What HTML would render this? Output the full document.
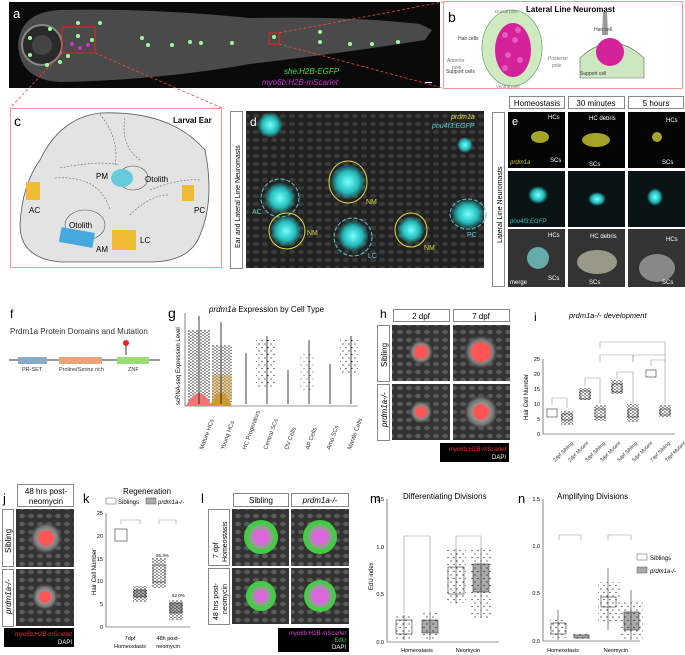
<!DOCTYPE html>
<html><head><meta charset="utf-8"><style>
body{margin:0;background:#fff;}
svg{display:block;font-family:"Liberation Sans",Arial,sans-serif;}
</style></head><body>
<svg width="685" height="655" viewBox="0 0 685 655" xmlns="http://www.w3.org/2000/svg">
<defs>
<radialGradient id="cy"><stop offset="0" stop-color="#7ff"/><stop offset="0.6" stop-color="#2bb"/><stop offset="1" stop-color="#2bb" stop-opacity="0"/></radialGradient>
<radialGradient id="gr"><stop offset="0" stop-color="#ccc"/><stop offset="0.7" stop-color="#777"/><stop offset="1" stop-color="#333" stop-opacity="0"/></radialGradient>
<pattern id="dots" width="4" height="3" patternUnits="userSpaceOnUse"><circle cx="1" cy="1" r="0.7" fill="#111"/><circle cx="3" cy="2.4" r="0.6" fill="#111"/></pattern>
<pattern id="sdots" width="6" height="7" patternUnits="userSpaceOnUse"><circle cx="1" cy="1" r="0.6" fill="#111"/><circle cx="4" cy="4.5" r="0.6" fill="#111"/></pattern>
<pattern id="nuc" width="9" height="8" patternUnits="userSpaceOnUse"><rect width="9" height="8" fill="#333"/><ellipse cx="4" cy="4" rx="3" ry="2.2" fill="#5a5a5a"/></pattern>
</defs>
<!-- panel a -->
<rect x="9" y="2" width="431" height="86" fill="#0a0a0a"/>
<path d="M18 45 Q20 12 60 10 Q150 8 250 18 Q350 16 420 24 L432 30 L425 40 Q350 52 250 64 Q160 80 60 82 Q20 80 18 45Z" fill="#4a4a4a"/>
<circle cx="42" cy="45" r="20" fill="#2a2a2a" stroke="#888" stroke-width="2"/>
<circle cx="42" cy="45" r="10" fill="#444"/>
<g fill="#9f9">
<circle cx="78" cy="23" r="2"/><circle cx="100" cy="23" r="2"/><circle cx="50" cy="29" r="2"/><circle cx="78" cy="36" r="2"/><circle cx="92" cy="40" r="2"/><circle cx="142" cy="38" r="2"/><circle cx="172" cy="45" r="2"/><circle cx="190" cy="42" r="2"/><circle cx="201" cy="43" r="2"/><circle cx="232" cy="43" r="2"/><circle cx="274" cy="37" r="2"/><circle cx="320" cy="42" r="2"/><circle cx="350" cy="44" r="2"/><circle cx="372" cy="44" r="2"/><circle cx="398" cy="42" r="2"/><circle cx="320" cy="32" r="2"/><circle cx="30" cy="55" r="2"/><circle cx="47" cy="65" r="2"/><circle cx="60" cy="62" r="2"/><circle cx="68" cy="56" r="2"/><circle cx="30" cy="38" r="2"/><circle cx="148" cy="45" r="2"/>
</g>
<g fill="#c3c"><circle cx="72" cy="44" r="2"/><circle cx="80" cy="48" r="2"/><circle cx="88" cy="45" r="2"/></g>
<rect x="62" y="27" width="33" height="26" fill="none" stroke="#e22" stroke-width="1"/>
<rect x="269" y="33" width="10" height="11" fill="none" stroke="#e22" stroke-width="1"/>
<text x="13" y="18" fill="#fff" font-size="13">a</text>
<text x="284" y="74" fill="#4d4" font-size="8" font-style="italic">she:H2B-EGFP</text>
<text x="262" y="85" fill="#c3c" font-size="8" font-style="italic">myo6b:H2B-mScarlet</text>
<rect x="425" y="82" width="7" height="1" fill="#fff"/>
<g stroke="#e44" stroke-width="0.8" stroke-dasharray="3,2" fill="none">
<line x1="279" y1="33" x2="443" y2="2"/><line x1="279" y1="44" x2="443" y2="88"/>
<line x1="62" y1="53" x2="10" y2="108"/><line x1="95" y1="53" x2="222" y2="108"/>
</g>
<!-- panel b -->
<rect x="443.5" y="1.5" width="239" height="87" fill="#fff" stroke="#e99" stroke-width="1"/>
<text x="448" y="22" font-size="14">b</text>
<text x="526" y="12" font-size="8" font-weight="bold">Lateral Line Neuromast</text>
<ellipse cx="512" cy="48" rx="30" ry="38" fill="#cfeac0" stroke="#6a6" stroke-width="0.7"/>
<ellipse cx="513" cy="50" rx="18" ry="27" fill="#d4239a"/>
<g fill="#e55bc0"><circle cx="505" cy="35" r="3"/><circle cx="515" cy="40" r="3"/><circle cx="508" cy="55" r="3"/><circle cx="520" cy="60" r="3"/><circle cx="505" cy="68" r="3"/><circle cx="518" cy="30" r="3"/></g>
<text x="495" y="13" font-size="4.5" fill="#777">Dorsal pole</text>
<text x="496" y="88" font-size="4.5" fill="#777">Ventral pole</text>
<text x="458" y="40" font-size="5" fill="#333">Hair cells</text>
<text x="447" y="62" font-size="5" fill="#777">Anterior</text><text x="452" y="69" font-size="5" fill="#777">pole</text>
<text x="548" y="60" font-size="5" fill="#777">Posterior</text><text x="552" y="67" font-size="5" fill="#777">pole</text>
<text x="446" y="73" font-size="5" fill="#333">Support cells</text>
<path d="M580 58 Q612 28 644 58 L644 78 L580 78Z" fill="#cde8c0" stroke="#666" stroke-width="0.6"/>
<path d="M603 12 L607 12 L608 35 L602 35Z" fill="#999"/>
<ellipse cx="610" cy="52" rx="14" ry="14" fill="#d4239a"/>
<text x="594" y="31" font-size="5" fill="#333">Hair cell</text>
<text x="580" y="75" font-size="5" fill="#333">Support cell</text>
<!-- panel c -->
<rect x="10.5" y="108.5" width="211" height="159" fill="#fff" stroke="#e99" stroke-width="1"/>
<text x="14" y="126" font-size="14">c</text>
<text x="173" y="123" font-size="8" font-weight="bold">Larval Ear</text>
<path d="M100 113 Q170 110 205 150 Q215 200 200 235 Q190 262 150 262 L60 262 Q20 258 20 225 Q22 185 40 160 Q60 118 100 113Z" fill="#e3e3e3" stroke="#555" stroke-width="0.8"/>
<g fill="none" stroke="#666" stroke-width="0.6" stroke-dasharray="2,1.5"><path d="M100 114 Q120 140 115 165"/><path d="M125 118 Q120 145 140 160"/><path d="M60 168 Q100 160 118 165"/><path d="M55 178 Q100 175 110 210"/><path d="M150 190 Q180 178 200 180"/><path d="M130 215 Q150 195 168 195"/></g>
<ellipse cx="133" cy="178" rx="15" ry="12" fill="none" stroke="#555" stroke-width="0.6"/>
<ellipse cx="122" cy="178" rx="11" ry="9" fill="#6cd"/>
<ellipse cx="85" cy="225" rx="20" ry="15" fill="none" stroke="#555" stroke-width="0.6"/>
<rect x="60" y="230" width="34" height="15" fill="#4ad" transform="rotate(10 77 237)"/>
<rect x="26" y="182" width="14" height="18" fill="#eb3"/>
<rect x="182" y="185" width="12" height="16" fill="#eb3"/>
<rect x="112" y="230" width="24" height="20" fill="#eb3"/>
<text x="96" y="179" font-size="8">PM</text><text x="145" y="182" font-size="8">Otolith</text>
<text x="29" y="213" font-size="8">AC</text><text x="194" y="213" font-size="8">PC</text>
<text x="69" y="228" font-size="8">Otolith</text><text x="96" y="252" font-size="8">AM</text><text x="140" y="243" font-size="8">LC</text>
<!-- panel d -->
<rect x="230.5" y="111.5" width="12" height="157" fill="#fff" stroke="#888"/>
<text transform="translate(240 248) rotate(-90)" font-size="7">Ear and Lateral Line Neuromasts</text>
<rect x="246" y="111" width="238" height="157" fill="url(#nuc)"/>
<rect x="246" y="111" width="238" height="157" fill="#000" opacity="0.35"/>
<circle cx="270" cy="125" r="13" fill="url(#cy)"/>
<circle cx="465" cy="145" r="8" fill="url(#cy)"/>
<circle cx="348" cy="182" r="18" fill="url(#cy)"/><ellipse cx="348" cy="182" rx="19" ry="21" fill="none" stroke="#dd4" stroke-width="1"/>
<circle cx="280" cy="198" r="16" fill="url(#cy)"/><ellipse cx="280" cy="198" rx="19" ry="19" fill="none" stroke="#5cc" stroke-dasharray="4,2"/>
<circle cx="286" cy="231" r="16" fill="url(#cy)"/><ellipse cx="287" cy="231" rx="18" ry="18" fill="none" stroke="#dd4" stroke-width="1"/>
<circle cx="353" cy="236" r="16" fill="url(#cy)"/><ellipse cx="353" cy="237" rx="19" ry="19" fill="none" stroke="#5cc" stroke-dasharray="4,2"/>
<circle cx="411" cy="230" r="14" fill="url(#cy)"/><ellipse cx="411" cy="230" rx="16" ry="17" fill="none" stroke="#dd4" stroke-width="1"/>
<ellipse cx="468" cy="214" rx="17" ry="15" fill="url(#cy)"/><ellipse cx="468" cy="214" rx="18" ry="15" fill="none" stroke="#5cc" stroke-dasharray="4,2"/>
<text x="250" y="126" font-size="12" fill="#fff">d</text>
<text x="451" y="119" font-size="7" fill="#dd4" font-style="italic">prdm1a</text>
<text x="432" y="128" font-size="7" fill="#5cc" font-style="italic">pou4f3:EGFP</text>
<g font-size="7" fill="#6cc"><text x="252" y="214">AC</text><text x="366" y="204" fill="#dd4">NM</text><text x="307" y="235" fill="#dd4">NM</text><text x="368" y="258">LC</text><text x="424" y="250" fill="#dd4">NM</text><text x="467" y="237">PC</text></g>
<!-- panel e -->
<rect x="492.5" y="112.5" width="12" height="174" fill="#fff" stroke="#888"/>
<text transform="translate(502 243) rotate(-90)" font-size="7">Lateral Line Neuromasts</text>
<g fill="#fff" stroke="#888"><rect x="509.5" y="96.5" width="55" height="12"/><rect x="568.5" y="96.5" width="56" height="12"/><rect x="628.5" y="96.5" width="55" height="12"/></g>
<g font-size="8" text-anchor="middle"><text x="537" y="106">Homeostasis</text><text x="596" y="106">30 minutes</text><text x="656" y="106">5 hours</text></g>
<g fill="#050505"><rect x="508" y="112" width="57" height="56"/><rect x="568" y="112" width="57" height="56"/><rect x="628" y="112" width="57" height="56"/>
<rect x="508" y="171" width="57" height="56" fill="#0a1414"/><rect x="568" y="171" width="57" height="56" fill="#0a1414"/><rect x="628" y="171" width="57" height="56" fill="#0a1414"/>
<rect x="508" y="229" width="57" height="58" fill="#333"/><rect x="568" y="229" width="57" height="58" fill="#333"/><rect x="628" y="229" width="57" height="58" fill="#333"/></g>
<g fill="#cc3" opacity="0.8"><ellipse cx="540" cy="137" rx="9" ry="6"/><ellipse cx="596" cy="140" rx="14" ry="7"/><ellipse cx="657" cy="137" rx="5" ry="5"/></g>
<g><ellipse cx="538" cy="195" rx="10" ry="9" fill="url(#cy)"/><ellipse cx="597" cy="199" rx="9" ry="7" fill="url(#cy)"/><ellipse cx="655" cy="197" rx="8" ry="9" fill="url(#cy)"/>
<ellipse cx="538" cy="258" rx="11" ry="11" fill="#6aa"/><ellipse cx="597" cy="262" rx="20" ry="12" fill="#998"/><ellipse cx="657" cy="268" rx="18" ry="14" fill="#888"/></g>
<text x="512" y="125" font-size="11" fill="#fff">e</text>
<g font-size="6" fill="#fff"><text x="548" y="119">HCs</text><text x="589" y="120">HC debris</text><text x="666" y="122">HCs</text><text x="550" y="162">SCs</text><text x="589" y="166">SCs</text><text x="662" y="164">SCs</text>
<text x="548" y="237">HCs</text><text x="590" y="238">HC debris</text><text x="666" y="241">HCs</text><text x="548" y="280">SCs</text><text x="589" y="284">SCs</text><text x="662" y="284">SCs</text>
<text x="510" y="284">merge</text></g>
<text x="510" y="164" font-size="6" fill="#cc3" font-style="italic">prdm1a</text>
<text x="510" y="223" font-size="6" fill="#3bb" font-style="italic">pou4f3:EGFP</text>
<!-- panel f -->
<text x="10" y="318" font-size="12">f</text>
<text x="10" y="334" font-size="8" fill="#333">Prdm1a Protein Domains and Mutation</text>
<line x1="9" y1="360" x2="160" y2="360" stroke="#333"/>
<rect x="18" y="357" width="29" height="7" fill="#8ac"/><rect x="59" y="357" width="43" height="7" fill="#e9a377"/><rect x="117" y="357" width="32" height="7" fill="#9d7"/>
<line x1="126" y1="345" x2="126" y2="355" stroke="#333"/><circle cx="126" cy="343" r="3" fill="#e22"/>
<g font-size="5.5" fill="#333"><text x="22" y="371">PR-SET</text><text x="59" y="371">Proline/Serine rich</text><text x="128" y="371">ZNF</text></g>
<!-- panel g -->
<text x="168" y="318" font-size="14">g</text>
<text x="209" y="312" font-size="8"><tspan font-style="italic">prdm1a</tspan> Expression by Cell Type</text>
<line x1="185" y1="313" x2="185" y2="406" stroke="#333" stroke-width="0.6"/>
<text transform="translate(180 405) rotate(-90)" font-size="6">scRNA-seq Expression Level</text>
<line x1="185" y1="406" x2="358" y2="406" stroke="#333" stroke-width="0.6"/>
<rect x="188" y="330" width="22" height="72" fill="url(#dots)"/>
<rect x="212" y="345" width="20" height="57" fill="url(#dots)"/>
<rect x="212" y="375" width="20" height="25" fill="#c93" opacity="0.5"/>
<path d="M186 406 Q199 380 212 406Z" fill="#e77"/>
<path d="M210 406 Q221 380 232 406Z" fill="#c93"/>
<g stroke="#111" stroke-width="0.8"><line x1="199" y1="316" x2="199" y2="404"/><line x1="221" y1="322" x2="221" y2="404"/><line x1="246" y1="353" x2="246" y2="404"/><line x1="267" y1="336" x2="267" y2="404"/><line x1="288" y1="370" x2="288" y2="404"/><line x1="309" y1="340" x2="309" y2="404"/><line x1="330" y1="364" x2="330" y2="404"/><line x1="351" y1="336" x2="351" y2="404"/></g>
<rect x="256" y="340" width="20" height="48" fill="url(#sdots)"/>
<rect x="300" y="352" width="14" height="40" fill="url(#sdots)" opacity="0.6"/>
<rect x="340" y="338" width="18" height="36" fill="url(#sdots)"/>
<g font-size="6" fill="#333"><text transform="translate(203 450) rotate(-70)">Mature HCs</text><text transform="translate(224 450) rotate(-70)">Young HCs</text><text transform="translate(246 450) rotate(-70)">HC Progenitors</text><text transform="translate(267 450) rotate(-70)">Central SCs</text><text transform="translate(288 450) rotate(-70)">DV Cells</text><text transform="translate(309 450) rotate(-70)">AP Cells</text><text transform="translate(330 450) rotate(-70)">Amp SCs</text><text transform="translate(351 450) rotate(-70)">Mantle Cells</text></g>
<!-- panel h -->
<text x="380" y="318" font-size="12">h</text>
<g fill="#fff" stroke="#888"><rect x="393.5" y="309.5" width="56" height="12"/><rect x="453.5" y="309.5" width="56" height="12"/><rect x="377.5" y="325.5" width="12" height="56"/><rect x="377.5" y="384.5" width="12" height="56"/></g>
<g font-size="8" text-anchor="middle"><text x="421" y="319">2 dpf</text><text x="481" y="319">7 dpf</text></g>
<text transform="translate(387 367) rotate(-90)" font-size="8">Sibling</text>
<text transform="translate(387 427) rotate(-90)" font-size="8" font-style="italic">prdm1a-/-</text>
<g fill="url(#nuc)"><rect x="392" y="325" width="58" height="56"/><rect x="453" y="325" width="57" height="56"/><rect x="392" y="384" width="58" height="56"/><rect x="453" y="384" width="57" height="56"/></g>
<circle cx="481" cy="352" r="18" fill="url(#gr)"/><circle cx="481" cy="412" r="18" fill="url(#gr)"/><circle cx="421" cy="412" r="12" fill="url(#gr)"/><circle cx="421" cy="352" r="13" fill="url(#gr)"/>
<g fill="#f55"><circle cx="421" cy="352" r="7"/><circle cx="481" cy="352" r="10"/><circle cx="421" cy="412" r="6"/><circle cx="481" cy="412" r="8"/></g>
<rect x="440" y="443" width="69" height="19" fill="#000"/>
<text x="506" y="451" font-size="6" fill="#e33" text-anchor="end" font-style="italic">myo6b:H2B-mScarlet</text>
<text x="506" y="459" font-size="6" fill="#fff" text-anchor="end">DAPI</text>
<!-- panel i -->
<text x="534" y="321" font-size="12">i</text>
<text x="569" y="318" font-size="7.5" font-style="italic">prdm1a-/- development</text>
<line x1="543" y1="359" x2="543" y2="434" stroke="#333" stroke-width="0.6"/><line x1="543" y1="434" x2="675" y2="434" stroke="#333" stroke-width="0.6"/>
<g font-size="5.5" text-anchor="end"><text x="540" y="361">25</text><text x="540" y="376">20</text><text x="540" y="391">15</text><text x="540" y="406">10</text><text x="540" y="421">5</text><text x="540" y="436">0</text></g>
<text transform="translate(528 420) rotate(-90)" font-size="6">Hair Cell Number</text>
<g fill="#fff" stroke="#333" stroke-width="0.6"><rect x="547" y="409" width="10" height="8"/><rect x="562" y="414" width="10" height="6"/><rect x="580" y="391" width="10" height="8"/><rect x="595" y="409" width="10" height="8"/><rect x="612" y="384" width="10" height="8"/><rect x="628" y="409" width="10" height="8"/><rect x="646" y="370" width="10" height="7"/><rect x="660" y="409" width="10" height="6"/></g>
<g fill="url(#dots)"><rect x="561" y="411" width="12" height="14"/><rect x="594" y="405" width="12" height="16"/><rect x="627" y="404" width="12" height="18"/><rect x="659" y="405" width="12" height="12"/><rect x="579" y="388" width="12" height="12"/><rect x="611" y="380" width="12" height="14"/></g>
<g fill="none" stroke="#999" stroke-width="0.6"><path d="M552 405 V398 H567 V408"/><path d="M585 386 V378 H600 V404"/><path d="M617 379 V372 H633 V404"/><path d="M651 366 V360 H665 V404"/><path d="M600 362 V355 H633 V362"/><path d="M633 362 V355 H665 V362"/><path d="M600 348 V342 H665 V356"/></g>
<g font-size="5" fill="#333"><text transform="translate(555 462) rotate(-45)">2dpf Sibling</text><text transform="translate(570 462) rotate(-45)">2dpf Mutant</text><text transform="translate(587 462) rotate(-45)">3dpf Sibling</text><text transform="translate(602 462) rotate(-45)">3dpf Mutant</text><text transform="translate(619 462) rotate(-45)">5dpf Sibling</text><text transform="translate(634 462) rotate(-45)">5dpf Mutant</text><text transform="translate(652 462) rotate(-45)">7dpf Sibling</text><text transform="translate(667 462) rotate(-45)">7dpf Mutant</text></g>
<!-- panel j -->
<text x="3" y="503" font-size="13">j</text>
<rect x="17.5" y="484.5" width="56" height="22" fill="#fff" stroke="#888"/>
<text x="46" y="494" font-size="8" text-anchor="middle">48 hrs post-</text><text x="46" y="504" font-size="8" text-anchor="middle">neomycin</text>
<g fill="#fff" stroke="#888"><rect x="2.5" y="509.5" width="11" height="57"/><rect x="2.5" y="569.5" width="11" height="57"/></g>
<text transform="translate(11 553) rotate(-90)" font-size="8">Sibling</text>
<text transform="translate(11 614) rotate(-90)" font-size="8" font-style="italic">prdm1a-/-</text>
<rect x="16" y="509" width="58" height="58" fill="url(#nuc)"/><rect x="16" y="569" width="58" height="57" fill="url(#nuc)"/>
<circle cx="46" cy="538" r="17" fill="url(#gr)"/><circle cx="45" cy="597" r="14" fill="url(#gr)"/>
<circle cx="46" cy="538" r="8" fill="#f55"/><circle cx="45" cy="597" r="6" fill="#f55"/>
<rect x="4" y="628" width="70" height="19" fill="#000"/>
<text x="72" y="636" font-size="6" fill="#e33" text-anchor="end" font-style="italic">myo6b:H2B-mScarlet</text>
<text x="72" y="644" font-size="6" fill="#fff" text-anchor="end">DAPI</text>
<!-- panel k -->
<text x="83" y="503" font-size="13">k</text>
<text x="123" y="494" font-size="8">Regeneration</text>
<rect x="106" y="498" width="10" height="6" fill="#fff" stroke="#555" stroke-width="0.5"/><text x="118" y="504" font-size="6">Siblings</text>
<rect x="146" y="498" width="10" height="6" fill="#aaa" stroke="#555" stroke-width="0.5"/><text x="158" y="504" font-size="6" font-style="italic">prdm1a-/-</text>
<line x1="106" y1="513" x2="106" y2="627" stroke="#333" stroke-width="0.6"/><line x1="106" y1="627" x2="190" y2="627" stroke="#333" stroke-width="0.6"/>
<g font-size="5.5" text-anchor="end"><text x="103" y="515">25</text><text x="103" y="538">20</text><text x="103" y="561">15</text><text x="103" y="583">10</text><text x="103" y="606">5</text><text x="103" y="629">0</text></g>
<text transform="translate(96 595) rotate(-90)" font-size="6">Hair Cell Number</text>
<rect x="115" y="529" width="12" height="12" fill="#fff" stroke="#333" stroke-width="0.6"/>
<rect x="134" y="590" width="12" height="7" fill="#aaa" stroke="#333" stroke-width="0.6"/>
<rect x="153" y="565" width="12" height="17" fill="#fff" stroke="#333" stroke-width="0.6"/>
<rect x="170" y="603" width="12" height="10" fill="#aaa" stroke="#333" stroke-width="0.6"/>
<g fill="url(#dots)"><rect x="133" y="586" width="14" height="16"/><rect x="152" y="558" width="14" height="30"/><rect x="169" y="600" width="14" height="20"/></g>
<g fill="none" stroke="#999" stroke-width="0.6"><path d="M121 524 V520 H140 V524"/><path d="M159 524 V520 H176 V524"/></g>
<text x="156" y="557" font-size="4.5">55.3%</text><text x="172" y="597" font-size="4.5">52.0%</text>
<g font-size="5.5" text-anchor="middle"><text x="130" y="640">7dpf</text><text x="130" y="648">Homeostasis</text><text x="168" y="640">48h post-</text><text x="168" y="648">neomycin</text></g>
<!-- panel l -->
<text x="201" y="503" font-size="13">l</text>
<g fill="#fff" stroke="#888"><rect x="233.5" y="493.5" width="55" height="13"/><rect x="291.5" y="493.5" width="57" height="13"/><rect x="208.5" y="509.5" width="21" height="56"/><rect x="208.5" y="568.5" width="21" height="56"/></g>
<text x="261" y="503" font-size="8" text-anchor="middle">Sibling</text><text x="320" y="503" font-size="8" text-anchor="middle" font-style="italic">prdm1a-/-</text>
<text transform="translate(218 558) rotate(-90)" font-size="7">7 dpf</text><text transform="translate(227 562) rotate(-90)" font-size="7">Homeostasis</text>
<text transform="translate(218 620) rotate(-90)" font-size="7">48 hrs post-</text><text transform="translate(227 614) rotate(-90)" font-size="7">neomycin</text>
<g fill="url(#nuc)"><rect x="232" y="509" width="57" height="57"/><rect x="291" y="509" width="58" height="57"/><rect x="232" y="568" width="57" height="56"/><rect x="291" y="568" width="58" height="56"/></g>
<g fill="#4c4"><circle cx="261" cy="537" r="17"/><circle cx="320" cy="537" r="17"/><circle cx="261" cy="596" r="15"/><circle cx="320" cy="596" r="16"/></g>
<g fill="#999"><circle cx="261" cy="537" r="12"/><circle cx="320" cy="537" r="12"/><circle cx="261" cy="596" r="10"/><circle cx="320" cy="596" r="12"/></g>
<g fill="#d6d"><circle cx="261" cy="537" r="8"/><circle cx="320" cy="537" r="8"/><circle cx="261" cy="596" r="6"/><circle cx="320" cy="596" r="8"/></g>
<rect x="278" y="628" width="71" height="24" fill="#000"/>
<text x="346" y="635" font-size="6" fill="#d4d" text-anchor="end" font-style="italic">myo6b:H2B-mScarlet</text>
<text x="346" y="642" font-size="6" fill="#4d4" text-anchor="end">EdU</text>
<text x="346" y="649" font-size="6" fill="#fff" text-anchor="end">DAPI</text>
<!-- panel m -->
<text x="370" y="503" font-size="13">m</text>
<text x="403" y="499" font-size="8">Differentiating Divisions</text>
<line x1="387" y1="499" x2="387" y2="642" stroke="#333" stroke-width="0.6"/><line x1="387" y1="642" x2="499" y2="642" stroke="#333" stroke-width="0.6"/>
<g font-size="5.5" text-anchor="end"><text x="384" y="501">1.5</text><text x="384" y="549">1.0</text><text x="384" y="596">0.5</text><text x="384" y="644">0.0</text></g>
<text transform="translate(373 590) rotate(-90)" font-size="6">EdU index</text>
<rect x="396" y="620" width="16" height="14" fill="#fff" stroke="#333" stroke-width="0.6"/>
<rect x="422" y="620" width="16" height="13" fill="#aaa" stroke="#333" stroke-width="0.6"/>
<rect x="448" y="567" width="16" height="27" fill="#fff" stroke="#333" stroke-width="0.6"/>
<rect x="473" y="564" width="16" height="28" fill="#aaa" stroke="#333" stroke-width="0.6"/>
<g fill="url(#sdots)"><rect x="396" y="615" width="16" height="25"/><rect x="422" y="612" width="16" height="28"/><rect x="446" y="548" width="20" height="55"/><rect x="471" y="548" width="20" height="70"/></g>
<g stroke="#333" stroke-width="0.6"><line x1="404" y1="615" x2="404" y2="640"/><line x1="430" y1="612" x2="430" y2="640"/><line x1="456" y1="548" x2="456" y2="604"/><line x1="481" y1="548" x2="481" y2="618"/></g>
<g fill="none" stroke="#999" stroke-width="0.6"><path d="M404 614 V536 H430 V614"/><path d="M456 548 V536 H481 V548"/></g>
<g font-size="5.5" text-anchor="middle"><text x="417" y="652">Homeostasis</text><text x="468" y="652">Neomycin</text></g>
<!-- panel n -->
<text x="518" y="503" font-size="13">n</text>
<text x="557" y="499" font-size="8">Amplifying Divisions</text>
<line x1="543" y1="499" x2="543" y2="641" stroke="#333" stroke-width="0.6"/><line x1="543" y1="641" x2="640" y2="641" stroke="#333" stroke-width="0.6"/>
<g font-size="5.5" text-anchor="end"><text x="540" y="501">1.5</text><text x="540" y="548">1.0</text><text x="540" y="595">0.5</text><text x="540" y="643">0.0</text></g>
<rect x="551" y="623" width="15" height="11" fill="#fff" stroke="#333" stroke-width="0.6"/>
<rect x="574" y="635" width="15" height="3" fill="#aaa" stroke="#333" stroke-width="0.6"/>
<rect x="601" y="597" width="15" height="10" fill="#fff" stroke="#333" stroke-width="0.6"/>
<rect x="624" y="612" width="15" height="18" fill="#aaa" stroke="#333" stroke-width="0.6"/>
<g fill="url(#sdots)"><rect x="550" y="618" width="17" height="20"/><rect x="572" y="633" width="19" height="6"/><rect x="598" y="582" width="22" height="40"/><rect x="621" y="600" width="22" height="40"/></g>
<g stroke="#333" stroke-width="0.6"><line x1="558" y1="610" x2="558" y2="640"/><line x1="608" y1="568" x2="608" y2="630"/><line x1="631" y1="590" x2="631" y2="640"/></g>
<g fill="none" stroke="#999" stroke-width="0.6"><path d="M559 540 V535 H581 V540"/><path d="M608 540 V535 H631 V540"/></g>
<rect x="637" y="554" width="10" height="6" fill="#fff" stroke="#555" stroke-width="0.5"/><text x="650" y="560" font-size="6">Siblings</text>
<rect x="637" y="567" width="10" height="6" fill="#aaa" stroke="#555" stroke-width="0.5"/><text x="650" y="573" font-size="6" font-style="italic">prdm1a-/-</text>
<g font-size="5.5" text-anchor="middle"><text x="563" y="652">Homeostasis</text><text x="616" y="652">Neomycin</text></g>
</svg>
</body></html>
